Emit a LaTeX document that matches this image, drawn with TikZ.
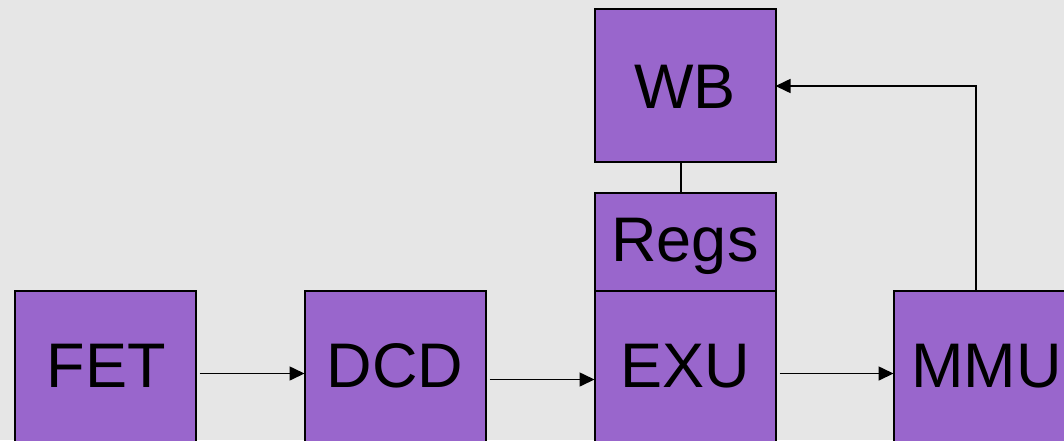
\documentclass[tikz,border=0pt]{standalone}
\usepackage{fontspec}
\setmainfont{Liberation Sans}
\usetikzlibrary{arrows.meta}
\definecolor{bg}{HTML}{E6E6E6}
\definecolor{boxfill}{HTML}{9966CC}
\begin{document}
\begin{tikzpicture}[x=1pt,y=-1pt,
  blk/.style={draw=black,fill=boxfill,line width=2pt,inner sep=0pt,outer sep=0pt,rectangle},
  lbl/.style={font=\fontsize{63}{63}\selectfont,anchor=base,inner sep=0pt},
  conn/.style={line width=1.6pt,-{Triangle[length=15pt,width=14pt]}},
  plain/.style={line width=1.6pt}]
\fill[bg] (0,0) rectangle (1064,440);
\useasboundingbox (0,0) rectangle (1064,440);
\begin{scope}
\clip (0,0) rectangle (1064,440);
\node[blk,minimum width=181pt,minimum height=190pt,anchor=north west] (fet) at (14.5,290.5) {};
\node[blk,minimum width=181pt,minimum height=190pt,anchor=north west] (dcd) at (304.5,290.5) {};
\node[blk,minimum width=181pt,minimum height=190pt,anchor=north west] (exu) at (594.5,290.5) {};
\node[blk,minimum width=181pt,minimum height=98pt,anchor=north west] (regs) at (594.5,192.5) {};
\node[blk,minimum width=181pt,minimum height=153pt,anchor=north west] (wb) at (594.5,8.5) {};
\node[blk,minimum width=190pt,minimum height=190pt,anchor=north west] (mmu) at (893.5,290.5) {};
\end{scope}
\node[lbl] (tfet) at (106,387.5) {FET};
\node[lbl] (tdcd) at (395,387.5) {DCD};
\node[lbl] (texu) at (685,387.5) {EXU};
\node[lbl] (tregs) at (685,261.5) {Regs};
\node[lbl] (twb) at (685,108) {WB};
\node[lbl,anchor=base west] (tmmu) at (911,387.5) {MMU};
\coordinate (m1) at (976,86);
\draw[conn] ([xshift=4pt]fet.east |- 0,373.5) -- (dcd.west |- 0,373.5);
\draw[conn] ([xshift=4pt]dcd.east |- 0,379.5) -- (exu.west |- 0,379.5);
\draw[conn] ([xshift=4pt]exu.east |- 0,373.5) -- (mmu.west |- 0,373.5);
\draw[plain] (wb.south -| 681,0) -- (regs.north -| 681,0);
\draw[conn] (mmu.north -| m1) -- (m1) -- (wb.east |- m1);
\end{tikzpicture}
\end{document}
